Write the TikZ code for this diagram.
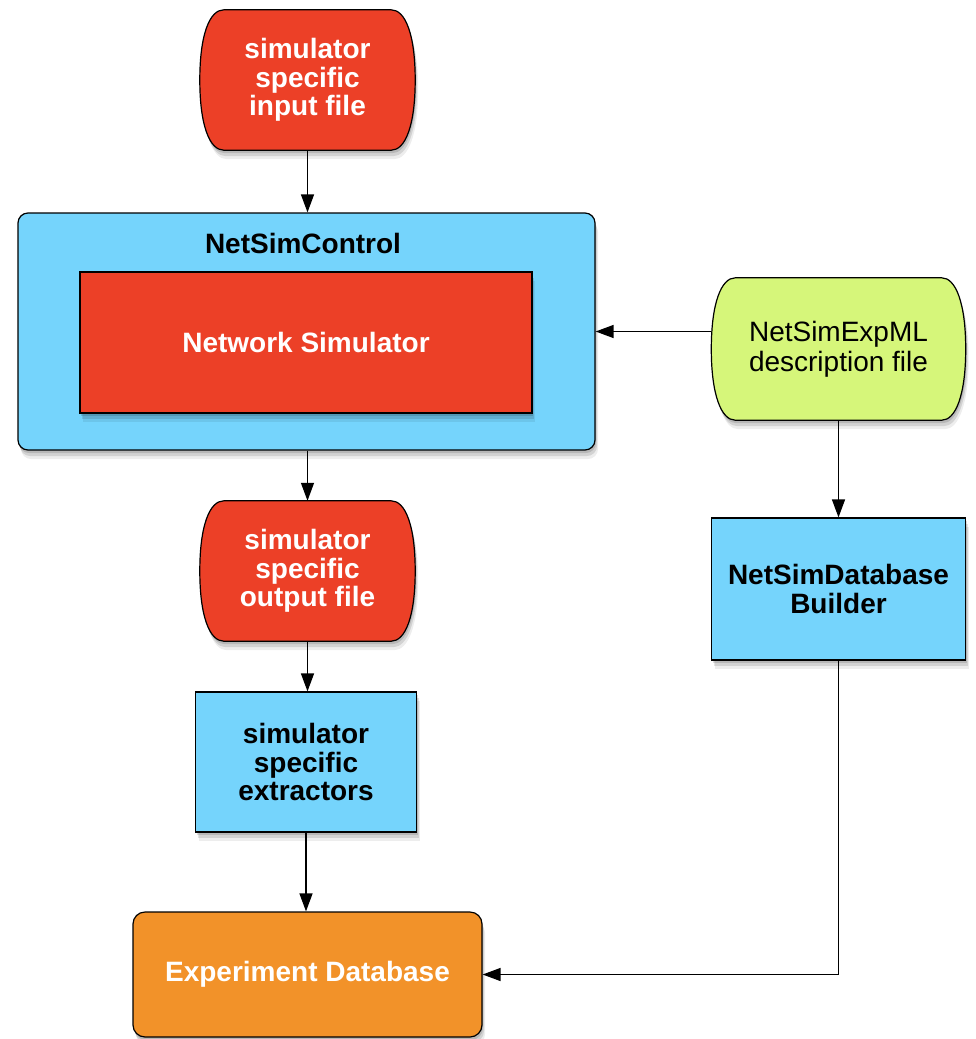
\documentclass[tikz,border=0pt]{standalone}
\usepackage{fontspec}
\setmainfont{Liberation Sans}
\usetikzlibrary{arrows.meta,shadows}
\definecolor{cred}{RGB}{236,64,39}
\definecolor{cblue}{RGB}{117,212,252}
\definecolor{cgreen}{RGB}{214,246,122}
\definecolor{corange}{RGB}{242,146,41}
\pgfdeclarelayer{bg}
\pgfsetlayers{bg,main}
\tikzset{
  softshadow/.style={
    drop shadow={shadow xshift=1pt,shadow yshift=-3pt,opacity=.13,fill=black},
    drop shadow={shadow xshift=2pt,shadow yshift=-6pt,opacity=.11,fill=black},
    drop shadow={shadow xshift=3pt,shadow yshift=-9pt,opacity=.07,fill=black}},
  base/.style={draw=black,line width=1.2pt,align=center,softshadow,inner sep=4pt},
  boldtxt/.style={font=\bfseries\fontsize{28}{28.5}\selectfont},
  filebox/.style={rectangle,align=center,boldtxt,text=white,minimum width=215pt,minimum height=140pt},
  outline/.style={draw=black,line width=1.2pt,softshadow},
  procbox/.style={base,boldtxt,rectangle,fill=cblue,text=black},
  arr/.style={-{Triangle[length=18pt,width=13pt]},line width=1.3pt,draw=black},
}
% curved-sided "file" outline round a named node
\newcommand\stshape[2]{%
  \begin{pgfonlayer}{bg}
  \path[outline,fill=#2]
    ([xshift=24pt]#1.north west) -- ([xshift=-24pt]#1.north east)
    .. controls ([xshift=-10pt]#1.north east) and ([yshift=46pt]#1.east) .. (#1.east)
    .. controls ([yshift=-46pt]#1.east) and ([xshift=-10pt]#1.south east) .. ([xshift=-24pt]#1.south east)
    -- ([xshift=24pt]#1.south west)
    .. controls ([xshift=10pt]#1.south west) and ([yshift=-46pt]#1.west) .. (#1.west)
    .. controls ([yshift=46pt]#1.west) and ([xshift=10pt]#1.north west) .. cycle;
  \end{pgfonlayer}}
\begin{document}
\begin{tikzpicture}[x=1pt,y=-1pt]
\begin{pgfonlayer}{bg}
\fill[white] (0,0) rectangle (975,1039);
\end{pgfonlayer}
\useasboundingbox (0,0) rectangle (975,1039);

% top input file
\node[filebox] (infile) at (307.5,80) {simulator\\specific\\input file};
\stshape{infile}{cred}

% NetSimControl container
\node[base,rectangle,rounded corners=10pt,fill=cblue,minimum width=577pt,minimum height=237pt] (ctrl) at (306.5,331.5) {};
\node[boldtxt,text=black] (ctrllbl) at (303,243) {NetSimControl};
\node[base,boldtxt,rectangle,fill=cred,text=white,minimum width=452pt,minimum height=141pt] (netsim) at (306,342.5) {Network Simulator};

% green description file
\node[rectangle,align=center,text=black,font=\fontsize{28}{30}\selectfont,
  minimum width=254pt,minimum height=142pt] (expml) at (838.5,349) {NetSimExpML\\description file};
\stshape{expml}{cgreen}

% output file
\node[filebox] (outfile) at (307.5,571) {simulator\\specific\\output file};
\stshape{outfile}{cred}

% extractors
\node[procbox,minimum width=221pt,minimum height=140pt] (extr) at (306,762) {simulator\\specific\\extractors};

% database builder
\node[procbox,minimum width=254pt,minimum height=142pt] (builder) at (838.5,589) {NetSimDatabase\\Builder};

% experiment database
\node[base,boldtxt,rectangle,rounded corners=12pt,fill=corange,text=white,minimum width=349pt,minimum height=125pt] (expdb) at (307.5,974.5) {Experiment Database};

% connectors
\coordinate (corner) at (builder.south |- expdb.east);
\draw[arr] (infile.south) -- (infile.south |- ctrl.north);
\draw[arr] (expml.west |- ctrl.east) -- (ctrl.east);
\draw[arr] (ctrl.south -| outfile.north) -- (outfile.north);
\draw[arr] (outfile.south) -- (outfile.south |- extr.north);
\draw[arr] (extr.south) -- (extr.south |- expdb.north);
\draw[arr] (expml.south) -- (builder.north);
\draw[arr] (builder.south) -- (corner) -- (expdb.east);
\end{tikzpicture}
\end{document}
